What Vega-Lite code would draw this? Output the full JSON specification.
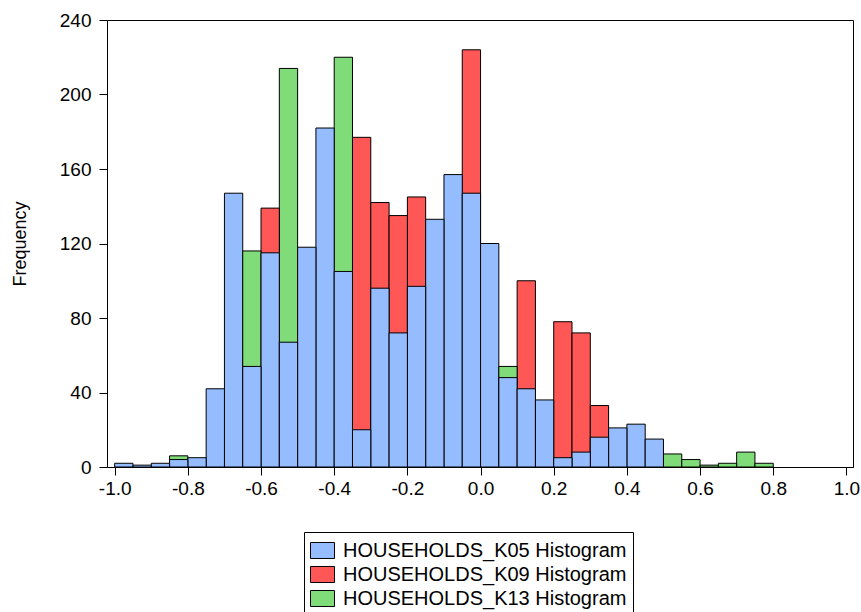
{
  "$schema": "https://vega.github.io/schema/vega-lite/v6.json",
  "width": 746,
  "height": 447,
  "autosize": {"type": "none"},
  "padding": {"left": 107, "top": 20, "right": 8, "bottom": 145},
  "background": "white",
  "config": {
    "font": "Liberation Sans",
    "view": {"stroke": "black", "strokeWidth": 1},
    "axis": {
      "domainColor": "black",
      "tickColor": "black",
      "tickSize": 8,
      "labelColor": "black",
      "titleColor": "black",
      "labelFont": "Liberation Sans",
      "titleFont": "Liberation Sans",
      "labelFontSize": 19,
      "titleFontSize": 18,
      "titleFontWeight": "normal",
      "grid": false
    }
  },
  "data": {
    "values": [
      {"lo": -1.0, "hi": -0.95, "s": "HOUSEHOLDS_K05 Histogram", "n": 2},
      {"lo": -0.95, "hi": -0.9, "s": "HOUSEHOLDS_K05 Histogram", "n": 1},
      {"lo": -0.9, "hi": -0.85, "s": "HOUSEHOLDS_K05 Histogram", "n": 2},
      {"lo": -0.85, "hi": -0.8, "s": "HOUSEHOLDS_K05 Histogram", "n": 4},
      {"lo": -0.8, "hi": -0.75, "s": "HOUSEHOLDS_K05 Histogram", "n": 5},
      {"lo": -0.75, "hi": -0.7, "s": "HOUSEHOLDS_K05 Histogram", "n": 42},
      {"lo": -0.7, "hi": -0.65, "s": "HOUSEHOLDS_K05 Histogram", "n": 147},
      {"lo": -0.65, "hi": -0.6, "s": "HOUSEHOLDS_K05 Histogram", "n": 54},
      {"lo": -0.6, "hi": -0.55, "s": "HOUSEHOLDS_K05 Histogram", "n": 115},
      {"lo": -0.55, "hi": -0.5, "s": "HOUSEHOLDS_K05 Histogram", "n": 67},
      {"lo": -0.5, "hi": -0.45, "s": "HOUSEHOLDS_K05 Histogram", "n": 118},
      {"lo": -0.45, "hi": -0.4, "s": "HOUSEHOLDS_K05 Histogram", "n": 182},
      {"lo": -0.4, "hi": -0.35, "s": "HOUSEHOLDS_K05 Histogram", "n": 105},
      {"lo": -0.35, "hi": -0.3, "s": "HOUSEHOLDS_K05 Histogram", "n": 20},
      {"lo": -0.3, "hi": -0.25, "s": "HOUSEHOLDS_K05 Histogram", "n": 96},
      {"lo": -0.25, "hi": -0.2, "s": "HOUSEHOLDS_K05 Histogram", "n": 72},
      {"lo": -0.2, "hi": -0.15, "s": "HOUSEHOLDS_K05 Histogram", "n": 97},
      {"lo": -0.15, "hi": -0.1, "s": "HOUSEHOLDS_K05 Histogram", "n": 133},
      {"lo": -0.1, "hi": -0.05, "s": "HOUSEHOLDS_K05 Histogram", "n": 157},
      {"lo": -0.05, "hi": 0.0, "s": "HOUSEHOLDS_K05 Histogram", "n": 147},
      {"lo": 0.0, "hi": 0.05, "s": "HOUSEHOLDS_K05 Histogram", "n": 120},
      {"lo": 0.05, "hi": 0.1, "s": "HOUSEHOLDS_K05 Histogram", "n": 48},
      {"lo": 0.1, "hi": 0.15, "s": "HOUSEHOLDS_K05 Histogram", "n": 42},
      {"lo": 0.15, "hi": 0.2, "s": "HOUSEHOLDS_K05 Histogram", "n": 36},
      {"lo": 0.2, "hi": 0.25, "s": "HOUSEHOLDS_K05 Histogram", "n": 5},
      {"lo": 0.25, "hi": 0.3, "s": "HOUSEHOLDS_K05 Histogram", "n": 8},
      {"lo": 0.3, "hi": 0.35, "s": "HOUSEHOLDS_K05 Histogram", "n": 16},
      {"lo": 0.35, "hi": 0.4, "s": "HOUSEHOLDS_K05 Histogram", "n": 21},
      {"lo": 0.4, "hi": 0.45, "s": "HOUSEHOLDS_K05 Histogram", "n": 23},
      {"lo": 0.45, "hi": 0.5, "s": "HOUSEHOLDS_K05 Histogram", "n": 15},
      {"lo": -0.6, "hi": -0.55, "s": "HOUSEHOLDS_K09 Histogram", "n": 139},
      {"lo": -0.35, "hi": -0.3, "s": "HOUSEHOLDS_K09 Histogram", "n": 177},
      {"lo": -0.3, "hi": -0.25, "s": "HOUSEHOLDS_K09 Histogram", "n": 142},
      {"lo": -0.25, "hi": -0.2, "s": "HOUSEHOLDS_K09 Histogram", "n": 135},
      {"lo": -0.2, "hi": -0.15, "s": "HOUSEHOLDS_K09 Histogram", "n": 145},
      {"lo": -0.05, "hi": 0.0, "s": "HOUSEHOLDS_K09 Histogram", "n": 224},
      {"lo": 0.1, "hi": 0.15, "s": "HOUSEHOLDS_K09 Histogram", "n": 100},
      {"lo": 0.2, "hi": 0.25, "s": "HOUSEHOLDS_K09 Histogram", "n": 78},
      {"lo": 0.25, "hi": 0.3, "s": "HOUSEHOLDS_K09 Histogram", "n": 72},
      {"lo": 0.3, "hi": 0.35, "s": "HOUSEHOLDS_K09 Histogram", "n": 33},
      {"lo": -0.85, "hi": -0.8, "s": "HOUSEHOLDS_K13 Histogram", "n": 6},
      {"lo": -0.65, "hi": -0.6, "s": "HOUSEHOLDS_K13 Histogram", "n": 116},
      {"lo": -0.55, "hi": -0.5, "s": "HOUSEHOLDS_K13 Histogram", "n": 214},
      {"lo": -0.4, "hi": -0.35, "s": "HOUSEHOLDS_K13 Histogram", "n": 220},
      {"lo": 0.05, "hi": 0.1, "s": "HOUSEHOLDS_K13 Histogram", "n": 54},
      {"lo": 0.5, "hi": 0.55, "s": "HOUSEHOLDS_K13 Histogram", "n": 7},
      {"lo": 0.55, "hi": 0.6, "s": "HOUSEHOLDS_K13 Histogram", "n": 4},
      {"lo": 0.6, "hi": 0.65, "s": "HOUSEHOLDS_K13 Histogram", "n": 1},
      {"lo": 0.65, "hi": 0.7, "s": "HOUSEHOLDS_K13 Histogram", "n": 2},
      {"lo": 0.7, "hi": 0.75, "s": "HOUSEHOLDS_K13 Histogram", "n": 8},
      {"lo": 0.75, "hi": 0.8, "s": "HOUSEHOLDS_K13 Histogram", "n": 2}
    ]
  },
  "mark": {"type": "bar", "stroke": "black", "strokeWidth": 1, "opacity": 1},
  "encoding": {
    "x": {
      "field": "lo",
      "type": "quantitative",
      "scale": {"domain": [-1.021, 1.018], "nice": false, "zero": false},
      "axis": {
        "title": null,
        "values": [-1.0, -0.8, -0.6, -0.4, -0.2, 0.0, 0.2, 0.4, 0.6, 0.8, 1.0],
        "format": ".1f",
        "labelExpr": "replace(datum.label, '−', '-')",
        "labelPadding": 4,
        "domain": true
      }
    },
    "x2": {"field": "hi"},
    "y": {
      "field": "n",
      "type": "quantitative",
      "stack": null,
      "scale": {"domain": [0, 240], "nice": false},
      "axis": {
        "title": "Frequency",
        "values": [0, 40, 80, 120, 160, 200, 240],
        "labelPadding": 8,
        "titlePadding": 30
      }
    },
    "y2": {"datum": 0},
    "color": {
      "field": "s",
      "type": "nominal",
      "scale": {
        "domain": ["HOUSEHOLDS_K05 Histogram", "HOUSEHOLDS_K09 Histogram", "HOUSEHOLDS_K13 Histogram"],
        "range": ["#94BCFF", "#FF5656", "#80DC78"]
      },
      "legend": {
        "title": null,
        "orient": "none",
        "legendX": 197,
        "legendY": 512,
        "direction": "vertical",
        "strokeColor": "black",
        "fillColor": "white",
        "padding": 6,
        "labelFont": "Liberation Sans",
        "labelFontSize": 20,
        "labelColor": "black",
        "labelLimit": 400,
        "labelOffset": 8,
        "rowPadding": 1,
        "symbolType": "M-1,-0.667H1V0.667H-1Z",
        "symbolSize": 576,
        "symbolStrokeColor": "black",
        "symbolStrokeWidth": 1,
        "symbolOpacity": 1
      }
    },
    "order": {"field": "n", "sort": "descending"}
  }
}
